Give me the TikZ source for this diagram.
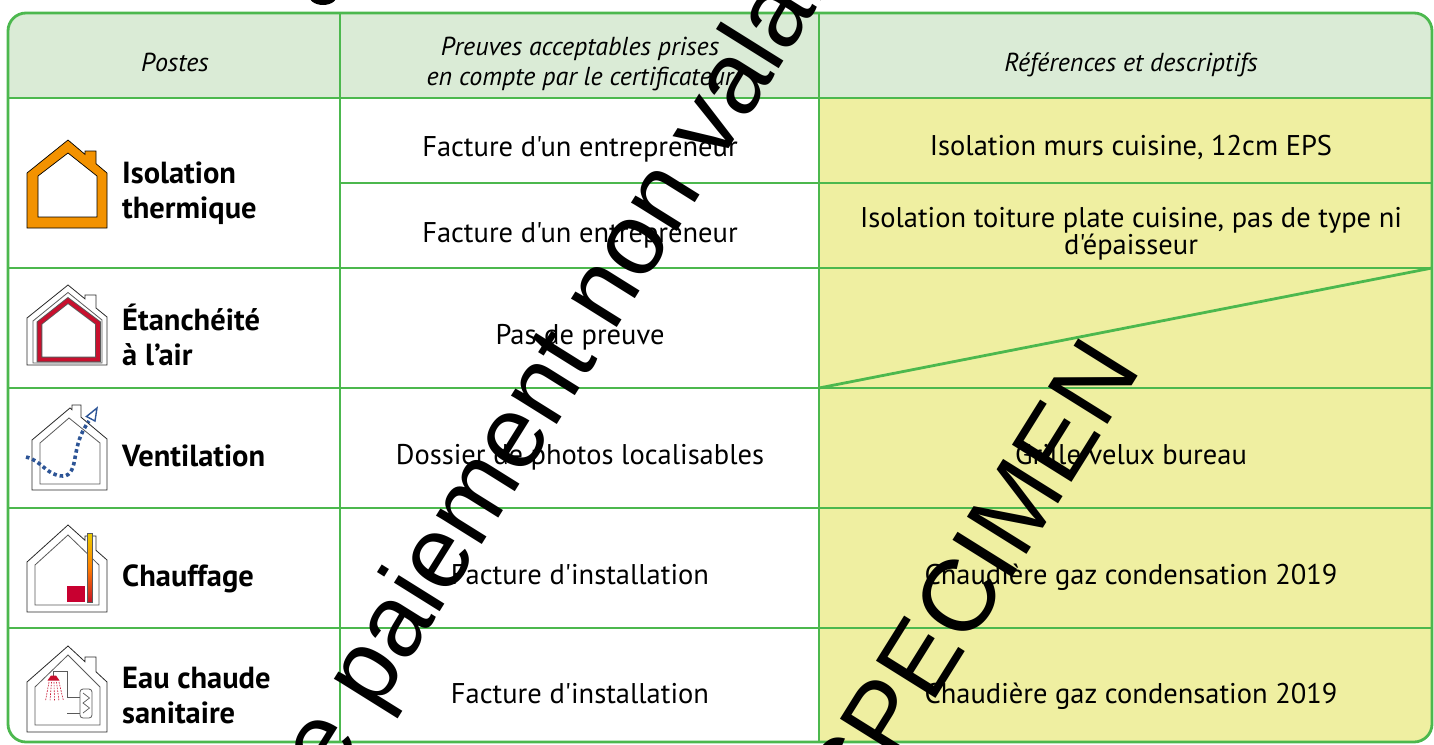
\documentclass[tikz,border=0pt]{standalone}
\usepackage{fontspec}
\newfontfamily\tabfont{PT Sans}
\newfontfamily\wmfont{Liberation Sans}
\definecolor{gline}{RGB}{76,184,78}
\definecolor{hdrfill}{RGB}{218,235,214}
\definecolor{yel}{RGB}{239,239,161}
\definecolor{orng}{RGB}{243,146,0}
\definecolor{redc}{RGB}{200,16,46}
\definecolor{boxred}{RGB}{200,0,48}
\definecolor{blu}{RGB}{44,84,150}
\definecolor{flueTop}{RGB}{235,205,0}
\definecolor{flueBot}{RGB}{200,20,40}
\definecolor{iconline}{RGB}{40,40,40}
\definecolor{icongray}{RGB}{90,90,90}
\tikzset{
  grid/.style={draw=gline, line width=2.8pt},
  body/.style={font=\tabfont\fontsize{28.5}{32}\selectfont, anchor=base, inner sep=0pt},
  lbl/.style={font=\tabfont\bfseries\fontsize{30.5}{34}\selectfont, anchor=base west, inner sep=0pt},
  hdr/.style={font=\tabfont\itshape\fontsize{26}{30}\selectfont, anchor=base, inner sep=0pt},
  wm/.style={font=\wmfont\fontsize{102}{110}\selectfont, inner sep=0pt, text=black},
  outerhouse/.style={draw=iconline, line width=0.8pt},
  innerhouse/.style={draw=icongray, line width=0.8pt},
}
\begin{document}
\begin{tikzpicture}[x=1pt,y=-1pt]
\useasboundingbox (0,0) rectangle (1434,744);
% ---- table fills
\begin{scope}
  \clip[rounded corners=18pt] (8,13) rectangle (1432,742);
  \fill[white] (8,13) rectangle (1432,742);
  \fill[hdrfill] (8,13) rectangle (1432,98);
  \fill[yel] (819,98) rectangle (1432,742);
\end{scope}
% ---- grid
\draw[grid] (8,98) -- (1432,98);
\draw[grid] (340,183) -- (1432,183);
\draw[grid] (8,268) -- (1432,268);
\draw[grid] (8,388) -- (1432,388);
\draw[grid] (8,508) -- (1432,508);
\draw[grid] (8,628) -- (1432,628);
\draw[grid] (340,13) -- (340,742);
\draw[grid] (819,13) -- (819,742);
\draw[grid] (819,388) -- (1432,268);
\draw[grid, rounded corners=18pt] (8,13) rectangle (1432,742);
% ---- header
\node[hdr] (hPostes) at (175,71) {Postes};
\node[hdr] (hPreuvesA) at (580,55) {Preuves acceptables prises};
\node[hdr] (hPreuvesB) at (580,85) {en compte par le certificateur};
\node[hdr] (hRef) at (1131,71) {Références et descriptifs};
% ---- labels
\node[lbl] (lIsoA) at (122,183) {Isolation};
\node[lbl] (lIsoB) at (122,218) {thermique};
\node[lbl] (lEtaA) at (122,330) {Étanchéité};
\node[lbl] (lEtaB) at (122,365) {à l’air};
\node[lbl] (lVent) at (122,466) {Ventilation};
\node[lbl] (lChauf) at (122,586) {Chauffage};
\node[lbl] (lEauA) at (122,688) {Eau chaude};
\node[lbl] (lEauB) at (122,723) {sanitaire};
% ---- column 2
\node[body] (p1) at (580,156) {Facture d'un entrepreneur};
\node[body] (p2) at (580,242) {Facture d'un entrepreneur};
\node[body] (p3) at (580,344) {Pas de preuve};
\node[body] (p4) at (580,464) {Dossier de photos localisables};
\node[body] (p5) at (580,584) {Facture d'installation};
\node[body] (p6) at (580,703) {Facture d'installation};
% ---- column 3
\node[body] (r1) at (1131,155) {Isolation murs cuisine, 12cm EPS};
\node[body] (r2a) at (1131,227) {Isolation toiture plate cuisine, pas de type ni};
\node[body] (r2b) at (1131,254) {d'épaisseur};
\node[body] (r4) at (1131,464) {Grille velux bureau};
\node[body] (r5) at (1131,584) {Chaudière gaz condensation 2019};
\node[body] (r6) at (1131,703) {Chaudière gaz condensation 2019};
% ---- icon: isolation
\path[fill=orng, draw=black, line width=0.7pt, even odd rule]
  (27,228) -- (27,173) -- (68,140) -- (85,154.4) -- (85,151) -- (96,151) -- (96,163.7) -- (107,173) -- (107,228) -- cycle
  (38,217) -- (38,176) -- (68,153) -- (97,176) -- (97,217) -- cycle;
% ---- icon: etancheite
\draw[outerhouse] (27,365) -- (27,318) -- (68,285) -- (85,298.9) -- (85,295) -- (96,295) -- (96,308) -- (107,317) -- (107,365) -- cycle;
\draw[innerhouse] (33,363) -- (33,321) -- (68,292.5) -- (102,320) -- (102,363) -- cycle;
\draw[icongray, line width=5.6pt, line join=miter] (39.5,359.5) -- (39.5,323) -- (68,300.5) -- (98,323) -- (98,359.5) -- cycle;
\draw[redc, line width=3.8pt, line join=miter] (39.5,359.5) -- (39.5,323) -- (68,300.5) -- (98,323) -- (98,359.5) -- cycle;
% ---- icon: ventilation
\draw[outerhouse] (32,490) -- (32,440) -- (70,408) -- (72,409.7) -- (72,405) -- (81,405) -- (81,417.2) -- (107,439) -- (107,490) -- cycle;
\draw[innerhouse] (40,484) -- (40,443) -- (69,418) -- (100,443) -- (100,484) -- cycle;
\draw[blu, line width=3.6pt, dash pattern=on 3.5pt off 3pt]
  (26,457) to[out=-12,in=180] (63,476) to[out=0,in=-100] (75,458) to[out=80,in=-125] (89,421);
\draw[blu, line width=1.4pt, line join=miter] (97,408) -- (86.5,416.5) -- (95,421) -- cycle;
% ---- icon: chauffage
\draw[outerhouse] (27,612) -- (27,562) -- (68,525) -- (85,540.3) -- (85,536) -- (96,536) -- (96,550.3) -- (107,560) -- (107,612) -- cycle;
\draw[innerhouse] (35,605) -- (35,565) -- (68,535) -- (99,565) -- (99,605) -- cycle;
\fill[boxred] (67,586) rectangle (85,602);
\shade[top color=flueTop, bottom color=flueBot, middle color=orange] (87,533) rectangle (92,602);
\draw[icongray, line width=0.5pt] (87,533) rectangle (92,602);
% ---- icon: eau chaude
\draw[outerhouse] (27,732) -- (27,682) -- (68,646) -- (85,661.7) -- (85,657) -- (96,657) -- (96,671.8) -- (107,682) -- (107,732) -- cycle;
\draw[innerhouse] (35,725) -- (35,687) -- (68,655) -- (100,687) -- (100,725) -- cycle;
\draw[icongray, line width=0.8pt] (53,676) -- (53,671) -- (67,671) -- (67,697) -- (80,697);
\draw[icongray, line width=0.8pt] (67,713) -- (80,713);
\fill[redc] (47.5,680.5) -- (59.5,680.5) -- (56,675.5) -- (51,675.5) -- cycle;
\foreach \a/\b in {49/45.5, 51.5/50, 54/54.5, 56.5/59, 59/63.5}
  \draw[redc, line width=0.6pt, dash pattern=on 1.6pt off 1.2pt] (\a,682) -- (\b,701);
\draw[icongray, line width=0.8pt, rounded corners=3pt] (80,689) rectangle (92,718);
\draw[icongray, line width=0.7pt] (83,693) -- (89.5,698) -- (83,703) -- (89.5,708) -- (83,713);
% ---- watermarks
\node[wm, rotate=58, anchor=base] (wmA) at (1001,595) {SPECIMEN};
\node[wm, rotate=58, anchor=base west] (wmB) at (331,786) {e paiement non valable};
\fill[black] (323,-6) ellipse [x radius=15pt, y radius=11pt];
\end{tikzpicture}
\end{document}
